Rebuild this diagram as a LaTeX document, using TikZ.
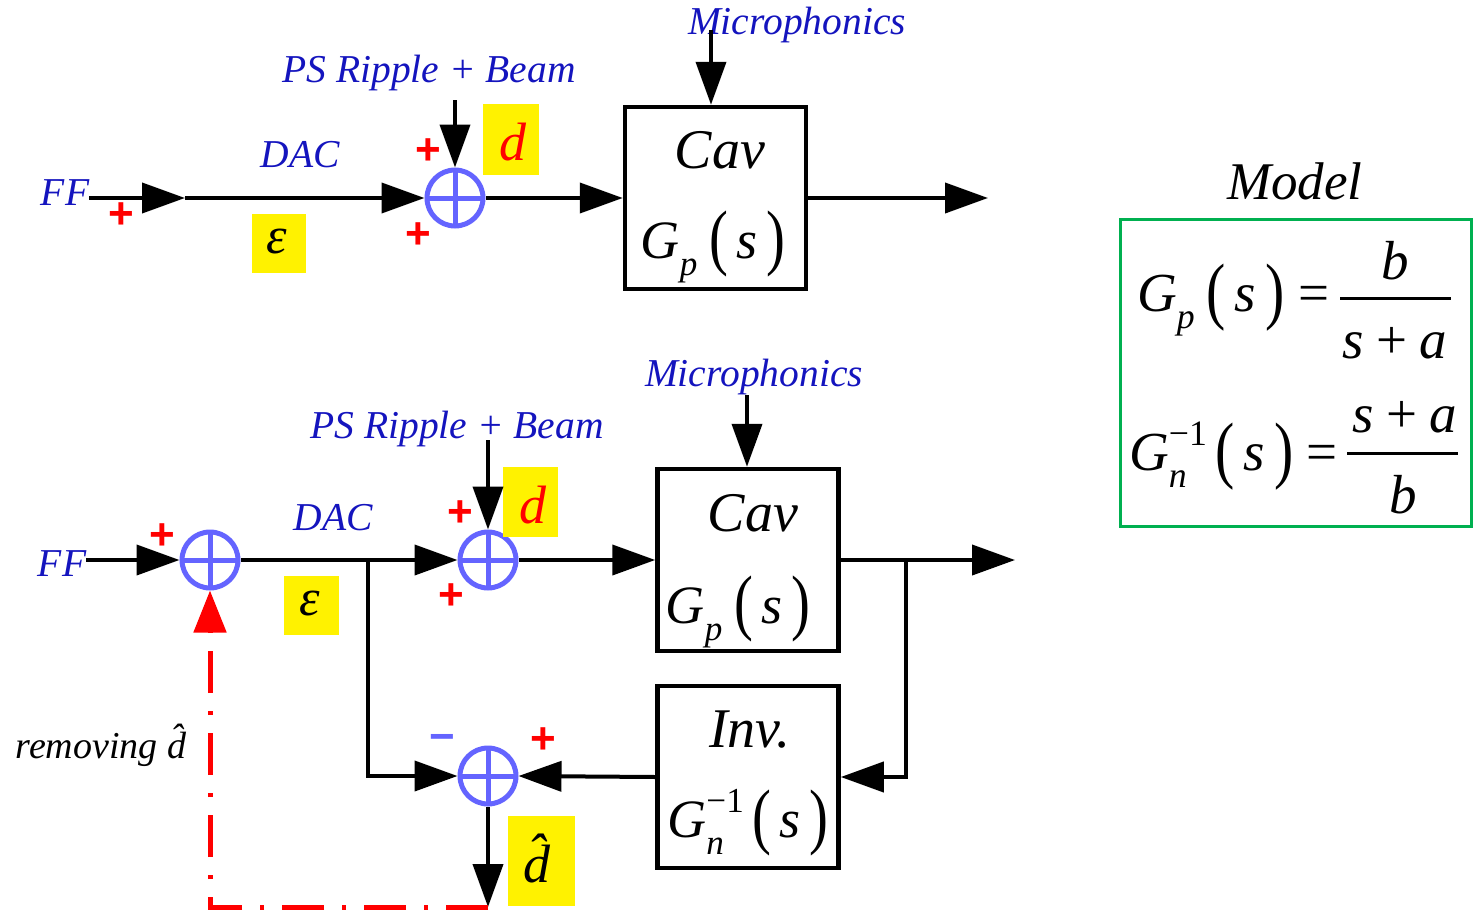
\documentclass[tikz,border=0pt]{standalone}
\usepackage{fontspec}
\usepackage{graphicx}
\setmainfont{Liberation Serif}
\newfontfamily\sansb{Liberation Sans}
\usetikzlibrary{arrows.meta}
\definecolor{txtblue}{RGB}{20,20,190}
\definecolor{sumblue}{RGB}{100,100,255}
\definecolor{grn}{RGB}{0,176,80}
\newcommand{\lpar}{\raisebox{-0.07em}{\scalebox{1.05}[1.35]{(}}}
\newcommand{\rpar}{\raisebox{-0.07em}{\scalebox{1.05}[1.35]{)}}}
\newcommand{\Gpfun}{\textit{G}\raisebox{-0.32em}{\scalebox{0.65}{\textit{p}}}\hspace{0.22em}\lpar\hspace{0.16em}\textit{s}\hspace{0.16em}\rpar}
\newcommand{\Gnfun}{\textit{G}\rlap{\raisebox{-0.32em}{\scalebox{0.65}{\textit{n}}}}\raisebox{0.45em}{\scalebox{0.65}{−1}}\hspace{0.16em}\lpar\hspace{0.16em}\textit{s}\hspace{0.16em}\rpar}
\newcommand{\spa}{\textit{s}\hspace{0.22em}+\hspace{0.22em}\textit{a}}
\begin{document}
\begin{tikzpicture}[x=1pt,y=-1pt,
  arr/.style={-{Triangle[length=43pt,width=30pt]}, line width=4pt},
  redarr/.style={-{Triangle[length=42pt,width=32pt]}, line width=5pt, draw=red, dash pattern=on 42pt off 18pt on 4pt off 18pt},
  lbl/.style={text=txtblue, font=\fontsize{39.5}{44}\selectfont\itshape, inner sep=0pt},
  sumnode/.style={circle, draw=sumblue, line width=5pt, minimum size=56pt, inner sep=0pt,
    path picture={\draw[sumblue, line width=5pt] (path picture bounding box.north) -- (path picture bounding box.south)
      (path picture bounding box.west) -- (path picture bounding box.east);}},
  blk/.style={draw, line width=4.5pt, minimum width=181pt, minimum height=182pt, inner sep=0pt},
  hl/.style={fill=yellow, inner sep=0pt},
  pl/.style={text=red, font=\sansb\bfseries\fontsize{44}{44}\selectfont, inner sep=0pt},
  mi/.style={text=sumblue, font=\sansb\bfseries\fontsize{44}{44}\selectfont, inner sep=0pt},
  big/.style={font=\fontsize{56}{60}\selectfont\itshape, inner sep=0pt},
  mid/.style={font=\fontsize{54}{60}\selectfont, inner sep=0pt},
  eq/.style={font=\fontsize{55}{60}\selectfont, inner sep=0pt},
]
\useasboundingbox (0,0) rectangle (1476,911);

% ================= TOP DIAGRAM =================
\node[lbl] (ff1) at (65,193) {FF};
\coordinate (c1) at (185,198);
\node[sumnode] (s1) at (455,198) {};
\node[blk] (cav1) at (715.5,198) {};
\coordinate (out1) at (988,198);
\node[lbl] (dac1) at (300,155) {DAC};
\node[lbl] (ps1) at (429,73) {PS Ripple + Beam};
\coordinate (ps1src) at (455,100);
\node[lbl] (mic1) at (797,25) {Microphonics};
\coordinate (mic1src) at (711,30);
\node[hl, minimum width=54pt, minimum height=59pt] (eps1box) at (279,243.5) {};
\node[font=\fontsize{52}{56}\selectfont\itshape, inner sep=0pt] (eps1) at (277,241) {ε};
\node[hl, minimum width=56pt, minimum height=71pt] (d1box) at (511,139.5) {};
\node[font=\fontsize{54}{58}\selectfont\itshape, text=red, inner sep=0pt] (d1) at (513,142) {d};
\node[pl] (p1) at (121,216) {+};
\node[pl] (p2) at (428,152) {+};
\node[pl] (p3) at (418,236) {+};
\node[big] (cav1t) at (720,150) {Cav};
\node[mid] (cav1g) at (713,247) {\Gpfun};

\draw[arr] (ff1.east |- c1) -- (c1);
\draw[arr] (c1) -- (s1);
\draw[arr] (ps1src) -- (s1);
\draw[arr] (s1) -- (cav1);
\draw[arr] (mic1src) -- (mic1src |- cav1.north);
\draw[arr] (cav1) -- (out1);

% ================= MODEL =================
\node[font=\fontsize{53}{58}\selectfont\itshape, inner sep=0pt] (modelt) at (1295,181) {Model};
\node[draw=grn, line width=3pt, minimum width=351pt, minimum height=307pt] (model) at (1296,373) {};
\node[eq, anchor=west] (eq1l) at (1137,300) {\Gpfun\hspace{0.25em}=};
\node[eq] (eq1n) at (1395,261) {\textit{b}};
\node[eq] (eq1d) at (1395,343) {\spa};
\draw[line width=3pt] (1340,298) -- (1451,298);
\node[eq, anchor=west] (eq2l) at (1129,456) {\Gnfun\hspace{0.25em}=};
\node[eq] (eq2n) at (1405,417) {\spa};
\node[eq] (eq2d) at (1403,495) {\textit{b}};
\draw[line width=3pt] (1347,453) -- (1458,453);

% ================= BOTTOM DIAGRAM =================
\node[lbl] (ff2) at (62,564) {FF};
\node[sumnode] (s2) at (210,560) {};
\coordinate (b1) at (368,560);
\node[sumnode] (s3) at (488,560) {};
\node[blk] (cav2) at (748,560) {};
\coordinate (b2) at (906,560);
\coordinate (out2) at (1015,560);
\node[blk] (inv) at (748,777) {};
\node[sumnode] (s4) at (488,776) {};
\coordinate (dh) at (488,907);
\node[lbl] (dac2) at (333,518) {DAC};
\node[lbl] (ps2) at (457,429) {PS Ripple + Beam};
\coordinate (ps2src) at (488,440);
\node[lbl] (mic2) at (754,377) {Microphonics};
\coordinate (mic2src) at (747,395);
\node[hl, minimum width=55pt, minimum height=59pt] (eps2box) at (311.5,605.5) {};
\node[font=\fontsize{52}{56}\selectfont\itshape, inner sep=0pt] (eps2) at (309.5,603) {ε};
\node[hl, minimum width=55pt, minimum height=70pt] (d2box) at (530.5,502) {};
\node[font=\fontsize{54}{58}\selectfont\itshape, text=red, inner sep=0pt] (d2) at (533,505) {d};
\node[hl, minimum width=67pt, minimum height=90pt] (dhbox) at (541.5,861) {};
\node[font=\fontsize{54}{58}\selectfont\itshape, inner sep=0pt] (dht) at (537,858) {\^{d}};
\node[pl] (p4) at (162,537) {+};
\node[pl] (p5) at (460,514) {+};
\node[pl] (p6) at (451,597) {+};
\node[pl] (p7) at (543,741) {+};
\node[mi] (m1) at (442,743) {−};
\node[big] (cav2t) at (753,513) {Cav};
\node[mid] (cav2g) at (738,612) {\Gpfun};
\node[big] (invt) at (750,730) {Inv.};
\node[mid] (invg) at (748,823) {\Gnfun};
\node[font=\fontsize{38}{42}\selectfont\itshape, inner sep=0pt] (rem) at (101,745) {removing \^{d}};

\draw[arr] (ff2.east |- s2) -- (s2);
\draw[line width=4pt] (s2) -- (b1);
\draw[arr] (b1) -- (s3);
\draw[arr] (ps2src) -- (s3);
\draw[arr] (s3) -- (cav2);
\draw[arr] (mic2src) -- (mic2src |- cav2.north);
\draw[arr] (cav2) -- (out2);
\draw[arr] (b2) |- (inv.east);
\draw[arr] (inv.west) -- (s4.east);
\draw[arr] (b1) |- (s4.west);
\draw[arr] (s4) -- (dh);
\draw[redarr] (dh) -| (s2.south);
\end{tikzpicture}
\end{document}
